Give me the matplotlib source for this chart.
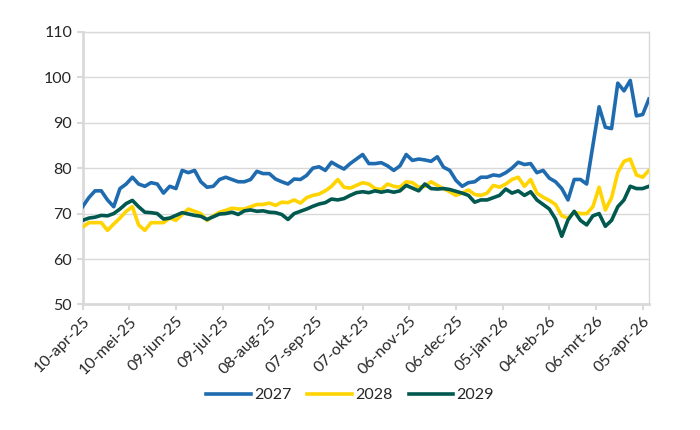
import matplotlib
matplotlib.use("Agg")
import matplotlib.pyplot as plt
import pandas as pd

# Koersen per leveringsjaar, één waarde per 4 dagen vanaf 10-apr-25
start_date = "2025-04-10"
step = "4D"

y2027 = [71.5, 73.5, 75.0, 75.0, 73.0, 71.5, 75.5, 76.5, 78.0, 76.5,
         76.0, 76.8, 76.5, 74.5, 76.0, 75.5, 79.5, 79.0, 79.5, 77.0,
         75.8, 76.0, 77.5, 78.0, 77.5, 77.0, 77.0, 77.5, 79.3, 78.8,
         78.8, 77.6, 77.0, 76.5, 77.6, 77.5, 78.4, 80.0, 80.3, 79.5,
         81.3, 80.5, 79.8, 81.0, 82.0, 83.0, 81.0, 81.0, 81.2, 80.5,
         79.5, 80.5, 83.0, 81.7, 82.0, 81.8, 81.5, 82.5, 80.2, 79.5,
         77.3, 76.0, 76.8, 77.0, 78.0, 78.0, 78.5, 78.3, 79.0, 80.0,
         81.3, 80.8, 81.0, 79.0, 79.5, 77.8, 77.0, 75.5, 73.0, 77.5,
         77.5, 76.5, 85.0, 93.5, 89.0, 88.7, 98.7, 97.0, 99.3, 91.5,
         91.8, 95.2]

y2028 = [67.0, 68.0, 68.0, 68.0, 66.3, 67.7, 69.0, 70.5, 71.5, 67.5,
         66.3, 68.0, 68.0, 68.0, 69.0, 68.5, 69.8, 71.0, 70.5, 70.0,
         68.5, 69.5, 70.3, 70.7, 71.2, 71.0, 71.0, 71.5, 72.0, 72.0,
         72.3, 71.8, 72.5, 72.4, 73.0, 72.3, 73.5, 74.0, 74.3, 75.0,
         76.0, 77.5, 75.8, 75.6, 76.2, 76.8, 76.5, 75.5, 75.3, 76.5,
         76.0, 75.8, 77.0, 76.8, 75.8, 76.0, 77.0, 76.2, 75.5, 74.8,
         74.0, 74.5, 75.2, 74.2, 74.0, 74.5, 76.2, 75.8, 76.5, 77.5,
         78.0, 76.0, 77.5, 74.5, 73.6, 72.9, 72.0, 69.5, 69.0, 70.3,
         70.0, 70.0, 71.5, 75.8, 70.8, 73.5, 79.0, 81.5, 82.0, 78.5,
         78.0, 79.5]

y2029 = [68.5, 69.0, 69.2, 69.6, 69.5, 70.0, 71.0, 72.2, 72.9, 71.5,
         70.3, 70.2, 70.0, 68.8, 69.0, 69.6, 70.2, 69.9, 69.6, 69.4,
         68.7, 69.3, 69.9, 70.0, 70.3, 69.8, 70.6, 70.8, 70.5, 70.6,
         70.3, 70.2, 69.8, 68.7, 70.0, 70.5, 71.0, 71.6, 72.1, 72.4,
         73.2, 73.0, 73.3, 74.0, 74.6, 74.8, 74.6, 75.0, 74.7, 75.0,
         74.7, 75.0, 76.2, 75.6, 75.0, 76.5, 75.5, 75.4, 75.5, 75.3,
         74.9, 74.5, 74.0, 72.5, 73.0, 73.0, 73.5, 74.0, 75.4, 74.5,
         75.0, 74.0, 74.8, 73.0, 72.0, 71.0, 68.8, 65.0, 68.6, 70.5,
         68.5, 67.5, 69.5, 70.0, 67.2, 68.5, 71.5, 73.0, 76.0, 75.5,
         75.5, 76.0]

tick_dates = ["2025-04-10", "2025-05-10", "2025-06-09", "2025-07-09",
              "2025-08-08", "2025-09-07", "2025-10-07", "2025-11-06",
              "2025-12-06", "2026-01-05", "2026-02-04", "2026-03-06",
              "2026-04-05"]
tick_labels = ["10-apr-25", "10-mei-25", "09-jun-25", "09-jul-25",
               "08-aug-25", "07-sep-25", "07-okt-25", "06-nov-25",
               "06-dec-25", "05-jan-26", "04-feb-26", "06-mrt-26",
               "05-apr-26"]
series_names = ["2027", "2028", "2029"]
colors = ["#1F6BB0", "#FFD400", "#00584E"]

dates = pd.date_range(start_date, periods=len(y2027), freq=step)

plt.rcParams['font.family'] = ['Lato', 'DejaVu Sans']

fig = plt.figure(figsize=(7, 4.3), dpi=100)
ax = fig.add_axes([0.118, 0.292, 0.809, 0.634])

grid_col = '#D9D9D9'
for vals, name, col in zip([y2027, y2028, y2029], series_names, colors):
    ax.plot(dates, vals, color=col, linewidth=2.6, label=name,
            solid_joinstyle='round', zorder=3)

ax.set_ylim(50, 110)
ax.set_yticks(range(50, 111, 10))
ax.set_xlim(dates[0], dates[-1])
ax.set_xticks(pd.to_datetime(tick_dates))
ax.set_xticklabels(tick_labels, rotation=45, ha='right', rotation_mode='anchor')

ax.grid(axis='y', color=grid_col, linewidth=1.0, zorder=0)
ax.set_axisbelow(True)

for side in ['left', 'bottom']:
    ax.spines[side].set_color(grid_col)
    ax.spines[side].set_linewidth(2.0)
for side in ['top', 'right']:
    ax.spines[side].set_color(grid_col)
    ax.spines[side].set_linewidth(1.0)

ax.tick_params(axis='both', colors=grid_col, width=1.5, length=4,
               labelcolor='#262626', labelsize=11.5)
ax.tick_params(axis='x', pad=3)

leg = fig.legend(loc='center', bbox_to_anchor=(0.5, 0.081), ncol=3, frameon=False,
                 fontsize=11.5, handlelength=2.8, handletextpad=0.2, columnspacing=1.0)
for t in leg.get_texts():
    t.set_color('#262626')

fig.savefig("out.png", dpi=100)
